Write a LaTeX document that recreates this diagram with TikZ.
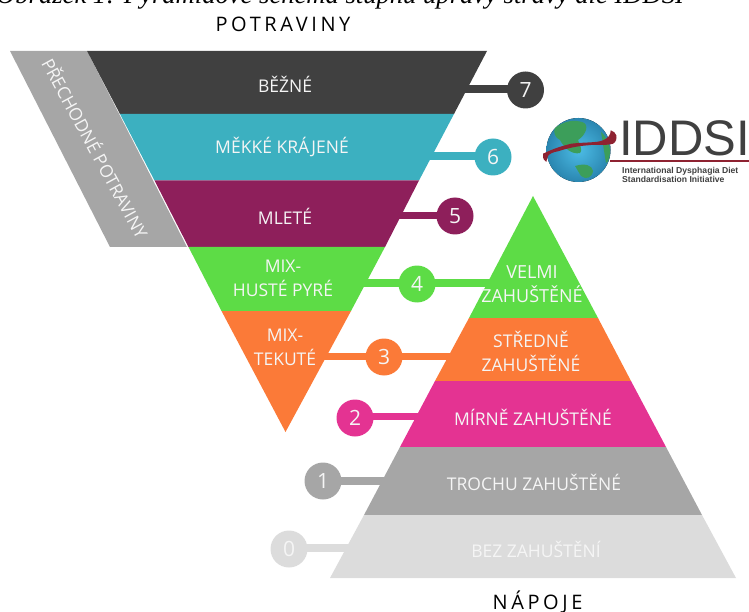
\documentclass[tikz,border=0pt]{standalone}
\usepackage{fontspec}
\setmainfont{Open Sans}
\newfontfamily\capfont[LetterSpace=18]{Open Sans}
\newfontfamily\logofont{Liberation Sans}
\newfontfamily\topfont{Liberation Serif}
\usetikzlibrary{backgrounds}
\definecolor{cbezne}{HTML}{404040}
\definecolor{ckrajene}{HTML}{3CB0C0}
\definecolor{cmlete}{HTML}{8E1F5B}
\definecolor{cpyre}{HTML}{5DDC46}
\definecolor{ctekute}{HTML}{FB7A38}
\definecolor{cmirne}{HTML}{E43392}
\definecolor{ctrochu}{HTML}{A6A6A6}
\definecolor{cbez}{HTML}{DCDCDC}
\definecolor{clogored}{HTML}{8E2231}
\definecolor{cglobe}{HTML}{2A86B0}
\definecolor{cglobein}{HTML}{4CBCE6}
\definecolor{cland}{HTML}{3C9E5A}
\tikzset{
  band/.style={fill=#1,draw=none},
  bandtext/.style={text=white!92!gray,font=\fontsize{17.5}{24}\selectfont,align=center,inner sep=0pt},
  numdot/.style={circle,fill=#1,minimum size=37pt,inner sep=0pt,text=white!92!gray,font=\fontsize{21}{24}\selectfont},
  bar/.style={line width=7.5pt,draw=#1},
  capword/.style={font=\fontsize{20}{24}\capfont,text=black,inner sep=0pt}
}
\begin{document}
\begin{tikzpicture}[x=1pt,y=-1pt]
  \useasboundingbox (0,0) rectangle (749,612);
  % cropped caption
  \node[anchor=base west,inner sep=0pt,font=\fontsize{26.6}{30}\topfont\itshape] (caption) at (-4,4) {Obrázek 1: Pyramidové schéma stupňů úpravy stravy dle IDDSI};
  \node[capword] (potraviny) at (283,24) {POTRAVINY};
  \node[capword] (napoje) at (537.5,602) {NÁPOJE};
  % bar ends under the bands
  \coordinate (e7) at (440,89);
  \coordinate (e6) at (410,156);
  \coordinate (e5) at (385,215.5);
  \coordinate (e4a) at (350,283);
  \coordinate (e4b) at (520,283);
  \coordinate (e3a) at (320,356.5);
  \coordinate (e3b) at (480,356.5);
  \coordinate (e2) at (440,416.5);
  \coordinate (e1) at (400,481);
  \coordinate (e0) at (370,548);
  \node[numdot=cbezne] (n7) at (525.5,90) {7};
  \node[numdot=ckrajene] (n6) at (493,157) {6};
  \node[numdot=cmlete] (n5) at (455,216) {5};
  \node[numdot=cpyre] (n4) at (417,284) {4};
  \node[numdot=ctekute] (n3) at (384,357) {3};
  \node[numdot=cmirne] (n2) at (355,418) {2};
  \node[numdot=ctrochu] (n1) at (323,481) {1};
  \node[numdot=cbez] (n0) at (289,549) {0};
  \begin{scope}[on background layer]
    \draw[bar=cbezne] (n7.center |- e7) -- (e7);
    \draw[bar=ckrajene] (n6.center |- e6) -- (e6);
    \draw[bar=cmlete] (n5.center |- e5) -- (e5);
    \draw[bar=cpyre] (e4a) -- (e4b);
    \draw[bar=ctekute] (e3a) -- (e3b);
    \draw[bar=cmirne] (n2.center |- e2) -- (e2);
    \draw[bar=ctrochu] (n1.center |- e1) -- (e1);
    \draw[bar=cbez] (n0.center |- e0) -- (e0);
  \end{scope}
  % food funnel
  \fill[ctrochu] (10,51) -- (87,51) -- (187,247) -- (110,247) -- cycle;
  \fill[band=cbezne] (87,51) -- (487,51) -- (454,114) -- (120,114) -- cycle;
  \fill[band=ckrajene] (120,114) -- (454,114) -- (419,180.5) -- (154.5,180.5) -- cycle;
  \fill[band=cmlete] (154.5,180.5) -- (419,180.5) -- (385,247) -- (188.5,247) -- cycle;
  \fill[band=cpyre] (188.5,247) -- (385,247) -- (351,311) -- (221.5,311) -- cycle;
  \fill[band=ctekute] (221.5,311) -- (351,311) -- (285.5,432) -- cycle;
  % drinks pyramid
  \fill[band=cpyre] (533,196) -- (598,318) -- (469,318) -- cycle;
  \fill[band=ctekute] (469,318) -- (598,318) -- (631,381) -- (435,381) -- cycle;
  \fill[band=cmirne] (435,381) -- (631,381) -- (666,447) -- (400,447) -- cycle;
  \fill[band=ctrochu] (400,447) -- (666,447) -- (702,515) -- (364,515) -- cycle;
  \fill[band=cbez] (364,515) -- (702,515) -- (736,578) -- (330,578) -- cycle;
  \node[bandtext] (tbezne) at (285,84) {BĚŽNÉ};
  \node[bandtext] (tkrajene) at (282,147) {MĚKKÉ KRÁJENÉ};
  \node[bandtext] (tmlete) at (285,216) {MLETÉ};
  \node[bandtext] (tpyre) at (283,278) {MIX-\\HUSTÉ PYRÉ};
  \node[bandtext] (ttekute) at (285,347) {MIX-\\TEKUTÉ};
  \node[bandtext,font=\fontsize{18}{24}\selectfont] (tvelmi) at (532,284) {VELMI\\ZAHUŠTĚNÉ};
  \node[bandtext] (tstredne) at (531,351.5) {STŘEDNĚ\\ZAHUŠTĚNÉ};
  \node[bandtext] (tmirne) at (533,417) {MÍRNĚ ZAHUŠTĚNÉ};
  \node[bandtext] (ttrochu) at (534,482) {TROCHU ZAHUŠTĚNÉ};
  \node[bandtext] (tbez) at (536,549) {BEZ ZAHUŠTĚNÍ};
  \node[bandtext,rotate=-61.5] (tprech) at (96,148) {PŘECHODNÉ POTRAVINY};
  % logo
  \fill[inner color=cglobein,outer color=cglobe] (578.5,150) circle (32);
  \fill[cland] (555,128) .. controls (565,120) and (575,120) .. (582,122) .. controls (590,124) and (586,135) .. (578,140) .. controls (580,146) and (583,150) .. (580,153) .. controls (572,155) and (564,148) .. (560,140) .. controls (555,138) and (553,132) .. (555,128) -- cycle;
  \fill[cland] (575,166) .. controls (585,163) and (592,165) .. (593,171) .. controls (592,178) and (586,180) .. (581,176) -- cycle;
  \fill[cland] (601,132) .. controls (606,136) and (610,145) .. (610,150) .. controls (610,158) and (608,162) .. (606,163) -- cycle;
  \fill[clogored] (543,153.7) .. controls (555,148) and (562,146) .. (571.3,143.7) .. controls (585,142) and (597,143) .. (603,140.3) .. controls (607,139) and (611,135) .. (610.7,130.3) .. controls (613,131) and (616,133) .. (616.3,135.3) .. controls (617,139) and (616,142) .. (613,143.7) .. controls (605,146) and (597,144) .. (588,145.3) .. controls (578,146) and (568,148) .. (558,151.3) .. controls (553,152) and (549,154) .. (548,156) .. controls (547,158) and (547,160) .. (546.3,162) .. controls (544,160) and (543,159) .. (543,157) -- cycle;
  \fill[clogored] (610,159.8) rectangle (749,162.4);
  \node[anchor=base west,inner sep=0pt,text=cbezne,xscale=.98,font=\fontsize{50}{50}\logofont] (iddsi) at (619,156) {IDDSI};
  \node[anchor=north west,inner sep=0pt,text=cbezne,align=left,font=\fontsize{8.6}{8.8}\logofont\bfseries] (initiative) at (622,167) {International Dysphagia Diet\\Standardisation Initiative};
\end{tikzpicture}
\end{document}
